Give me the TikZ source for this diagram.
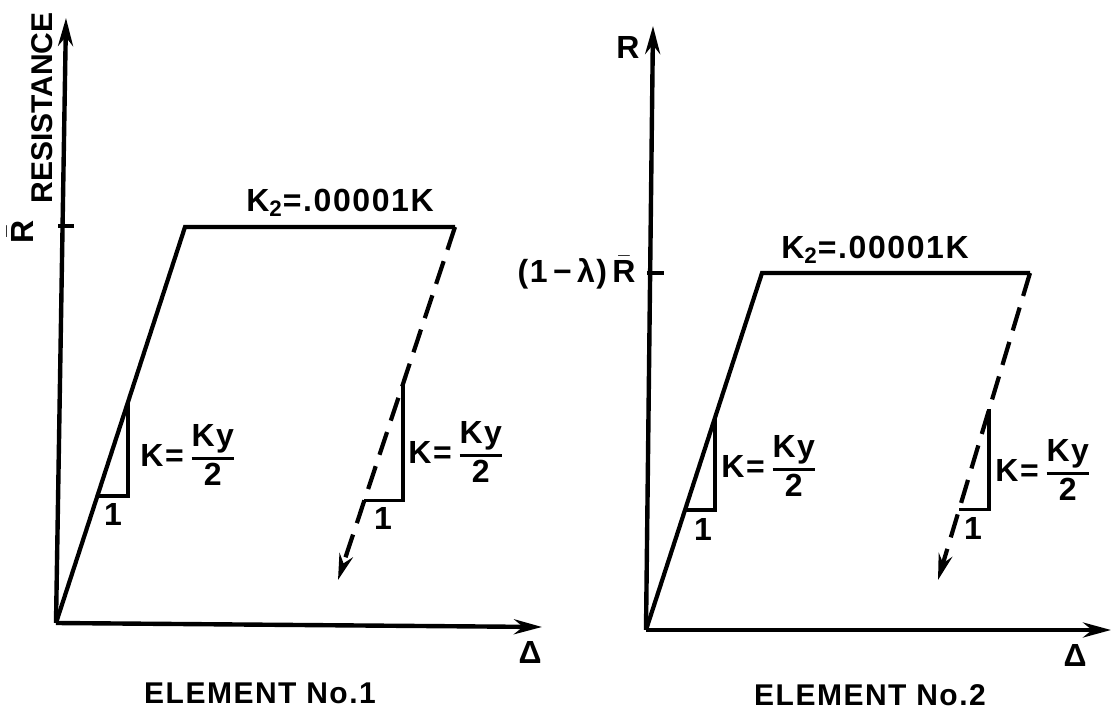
\documentclass[tikz,border=0pt]{standalone}
\usepackage{amsmath}
\usepackage{fontspec}
\setmainfont{Liberation Sans}[LetterSpace=5]
\usepackage{tikz}
\usetikzlibrary{arrows.meta, positioning, calc}

\tikzset{
  axis/.style={line width=2.2pt, -{Stealth[length=14pt,width=7.5pt]}},
  curve/.style={line width=2.1pt},
  unload/.style={line width=2.1pt, dash pattern=on 12pt off 6pt, -{Stealth[length=13pt,width=7pt]}},
  slope/.style={line width=1.8pt},
  lbl/.style={font=\fontsize{16}{18}\selectfont\bfseries, inner sep=1pt},
  captext/.style={font=\fontsize{15}{17}\selectfont\bfseries, inner sep=1pt}
}
\newcommand{\kfrac}{K=\,$\genfrac{}{}{1.6pt}{}{\mbox{\bfseries Ky}}{\mbox{\bfseries 2}}$}

\begin{document}
\begin{tikzpicture}[x=0.5pt, y=-0.5pt]
  \useasboundingbox (0,0) rectangle (1113,715);

  % element 1
  \coordinate (oA) at (56,623);
  \coordinate (yA) at (66,18);
  \coordinate (xA) at (542,627);
  \coordinate (tA1) at (58,226);
  \coordinate (tA2) at (74,226);
  \coordinate (yieldA) at (185,227);
  \coordinate (endA) at (455,227);
  \coordinate (tipA) at (338,580);
  \coordinate (sA1) at ($(oA)!0.32!(yieldA)$);
  \coordinate (sA2) at ($(oA)!0.56!(yieldA)$);
  \coordinate (sB1) at ($(endA)!0.775!(tipA)$);
  \coordinate (sB2) at ($(endA)!0.444!(tipA)$);

  \draw[axis] (oA) -- (yA);
  \draw[axis] (oA) -- (xA);
  \draw[curve] (tA1) -- (tA2);
  \draw[curve] (oA) -- (yieldA) -- (endA);
  \draw[unload] (endA) -- (tipA);
  \draw[slope] (sA1) -| (sA2);
  \draw[slope] (sB1) -| (sB2);

  \node[lbl, rotate=90] (rbarA) at (20,232) {$\bar{\mbox{\bfseries R}}$};
  \node[captext, rotate=90, font=\fontsize{15}{17}\selectfont\bfseries\addfontfeatures{LetterSpace=0}] (resA) at (42,108) {RESISTANCE};
  \node[lbl] (deltaA) at (530,652) {Δ};
  \node[lbl] (k2A) at (340,203) {K\textsubscript{2}=.00001K};
  \node[lbl] (oneA) at (113,514) {1};
  \node[lbl] (oneB) at (383,518) {1};
  \node[lbl, anchor=west] (kA) at (138,455) {\kfrac};
  \node[lbl, anchor=west] (kB) at (406,452) {\kfrac};
  \node[captext] (capA) at (260,693) {ELEMENT No.1};

  % element 2
  \coordinate (oB) at (646,630);
  \coordinate (yB) at (653,26);
  \coordinate (xB) at (1111,630);
  \coordinate (tB1) at (647,273);
  \coordinate (tB2) at (664,273);
  \coordinate (yieldB) at (762,273);
  \coordinate (endB) at (1030,273);
  \coordinate (tipB) at (938,580);
  \coordinate (sC1) at ($(oB)!0.336!(yieldB)$);
  \coordinate (sC2) at ($(oB)!0.594!(yieldB)$);
  \coordinate (sD1) at ($(endB)!0.77!(tipB)$);
  \coordinate (sD2) at ($(endB)!0.443!(tipB)$);

  \draw[axis] (oB) -- (yB);
  \draw[axis] (oB) -- (xB);
  \draw[curve] (tB1) -- (tB2);
  \draw[curve] (oB) -- (yieldB) -- (endB);
  \draw[unload] (endB) -- (tipB);
  \draw[slope] (sC1) -| (sC2);
  \draw[slope] (sD1) -| (sD2);

  \node[lbl] (rB) at (628,47) {R};
  \node[lbl, anchor=east] (lamB) at (638,273) {(1\,−\,λ)\,$\bar{\mbox{\bfseries R}}$};
  \node[lbl] (deltaB) at (1075,655) {Δ};
  \node[lbl] (k2B) at (875,250) {K\textsubscript{2}=.00001K};
  \node[lbl] (oneC) at (703,529) {1};
  \node[lbl] (oneD) at (973,528) {1};
  \node[lbl, anchor=west] (kC) at (719,466) {\kfrac};
  \node[lbl, anchor=west] (kD) at (993,470) {\kfrac};
  \node[captext] (capB) at (870,695) {ELEMENT No.2};
\end{tikzpicture}
\end{document}
